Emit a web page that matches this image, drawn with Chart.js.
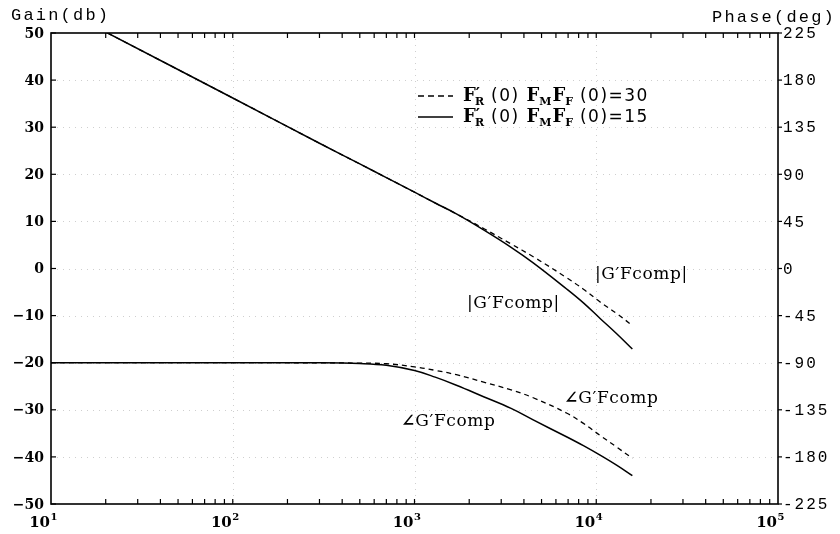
<!DOCTYPE html>
<html>
<head>
<meta charset="utf-8">
<script src="https://cdn.jsdelivr.net/npm/chart.js@4.4.1/dist/chart.umd.min.js"></script>
<style>
  html, body { margin: 0; background: #fff; }
  #wrap { width: 840px; height: 534px; }
</style>
</head>
<body>
<div id="wrap"><canvas id="bodeChart"></canvas></div>
<script>
// frequency points (Hz)
const freq = [10, 20, 100, 300, 500, 700, 1000, 1300, 1700, 2400, 3400, 4500, 6900, 8500, 10500, 13000, 15800];

// gain (db)
const gain30 = [56.2, 50.2, 36.2, 26.6, 22.2, 19.3, 16.2, 13.9, 11.6, 8.5, 5.2, 2.5, -2.0, -4.4, -7.1, -9.6, -12.1];
const gain15 = [56.2, 50.2, 36.2, 26.6, 22.2, 19.3, 16.2, 13.9, 11.6, 8.2, 4.5, 1.2, -4.4, -7.3, -10.6, -13.9, -17.1];

// phase (deg)
const phase30 = [-90, -90, -90, -90.1, -90.4, -91, -94, -97.3, -101.5, -108.5, -116, -123.5, -138.3, -148, -159.5, -170.8, -181.3];
const phase15 = [-90, -90, -90, -90.1, -90.8, -92.5, -97.5, -103.8, -111.5, -122.5, -133.7, -144.7, -161, -169.3, -178.4, -188.2, -198];

// tick labels
const gainTicks = [50, 40, 30, 20, 10, 0, -10, -20, -30, -40, -50];
const phaseTicks = [225, 180, 135, 90, 45, 0, -45, -90, -135, -180, -225];
const decadeTicks = [10, 100, 1000, 10000, 100000];
const decadeExp = ['1', '2', '3', '4', '5'];

const toXY = (arr) => freq.map((f, i) => ({ x: f, y: arr[i] }));

const bodePlugin = {
    id: 'bodePlugin',
    beforeDatasetsDraw(chart) {
        const { ctx, chartArea: a, scales } = chart;
        ctx.save();
        ctx.strokeStyle = '#cfcfcf';
        ctx.lineWidth = 1;
        ctx.setLineDash([1, 5]);
        gainTicks.slice(1, -1).forEach(v => {
            const y = Math.round(scales.y.getPixelForValue(v)) + 0.5;
            ctx.beginPath(); ctx.moveTo(a.left, y); ctx.lineTo(a.right, y); ctx.stroke();
        });
        decadeTicks.slice(1, -1).forEach(v => {
            const x = Math.round(scales.x.getPixelForValue(v)) + 0.5;
            ctx.beginPath(); ctx.moveTo(x, a.top); ctx.lineTo(x, a.bottom); ctx.stroke();
        });
        ctx.restore();
    },
    afterDraw(chart) {
        const { ctx, chartArea: a, scales } = chart;
        ctx.save();
        ctx.setLineDash([]);
        ctx.strokeStyle = '#000';
        ctx.fillStyle = '#000';

        // frame
        ctx.lineWidth = 1.6;
        ctx.strokeRect(a.left, a.top, a.right - a.left, a.bottom - a.top);

        // left ticks (inward) + labels
        ctx.lineWidth = 1.2;
        ctx.font = 'bold 14px "DejaVu Serif"';
        ctx.textAlign = 'right';
        ctx.textBaseline = 'middle';
        gainTicks.forEach(v => {
            const y = scales.y.getPixelForValue(v);
            ctx.beginPath(); ctx.moveTo(a.left, y); ctx.lineTo(a.left + 5, y); ctx.stroke();
            ctx.fillText(v < 0 ? '\u2212' + Math.abs(v) : String(v), 44, y + 1);
        });

        // right ticks (outward) + labels
        ctx.font = '16px "Liberation Mono"';
        ctx.letterSpacing = '2px';
        ctx.textAlign = 'left';
        phaseTicks.forEach(v => {
            const y = scales.y2.getPixelForValue(v);
            ctx.beginPath(); ctx.moveTo(a.right, y); ctx.lineTo(a.right + 4, y); ctx.stroke();
            ctx.fillText(String(v), 783, y + 1);
        });

        // log ticks top and bottom
        for (let d = 10; d < 100000; d *= 10) {
            for (let m = 1; m <= 9; m++) {
                const v = d * m;
                if (v === 10) continue;
                const x = scales.x.getPixelForValue(v);
                ctx.beginPath(); ctx.moveTo(x, a.bottom); ctx.lineTo(x, a.bottom - 5); ctx.stroke();
                ctx.beginPath(); ctx.moveTo(x, a.top); ctx.lineTo(x, a.top + 5); ctx.stroke();
            }
        }

        // decade labels
        ctx.letterSpacing = '0px';
        ctx.textBaseline = 'alphabetic';
        decadeTicks.forEach((v, i) => {
            const x = scales.x.getPixelForValue(v);
            ctx.font = 'bold 15px "DejaVu Serif"';
            ctx.textAlign = 'right';
            ctx.fillText('10', x - 1, 527);
            ctx.font = 'bold 10px "DejaVu Serif"';
            ctx.textAlign = 'left';
            ctx.fillText(decadeExp[i], x - 0.5, 520);
        });

        // axis titles
        ctx.font = '17px "Liberation Mono"';
        ctx.letterSpacing = '2.2px';
        ctx.textAlign = 'left';
        ctx.fillText('Gain(db)', 11, 20);
        ctx.fillText('Phase(deg)', 712, 22);
        ctx.letterSpacing = '0px';

        // legend
        const legendRow = (y, dash, value) => {
            ctx.lineWidth = 1.6;
            ctx.setLineDash(dash);
            ctx.beginPath(); ctx.moveTo(418, y); ctx.lineTo(453, y); ctx.stroke();
            ctx.setLineDash([]);
            let x = 463;
            const piece = (txt, font, dy, sp) => {
                ctx.font = font;
                ctx.letterSpacing = (sp || 0) + 'px';
                ctx.fillText(txt, x, y + 5 + dy);
                x += ctx.measureText(txt).width;
            };
            const big = 'bold 18px "DejaVu Serif"';
            const sub = 'bold 11px "DejaVu Serif"';
            const sans = '17px "DejaVu Sans"';
            piece('F', big, 0);
            piece('\u2032', 'bold 16px "DejaVu Serif"', -2);
            x -= 5;
            piece('R', sub, 4);
            piece(' (0) ', sans, 0, 1.5);
            piece('F', big, 0);
            piece('M', sub, 4);
            x += 1;
            piece('F', big, 0);
            piece('F', sub, 4);
            piece(' (0)=' + value, sans, 0, 1.5);
            ctx.letterSpacing = '0px';
        };
        ctx.textAlign = 'left';
        legendRow(96, [6, 4], '30');
        legendRow(117, [], '15');

        // curve annotations
        ctx.textBaseline = 'middle';
        const note = (prefix, txt, x, y) => {
            ctx.font = 'bold 17px "DejaVu Serif"';
            ctx.fillText(prefix, x, y);
            x += ctx.measureText(prefix).width;
            ctx.font = '17px "DejaVu Serif"';
            ctx.letterSpacing = '0.6px';
            ctx.fillText(txt, x, y);
            ctx.letterSpacing = '0px';
        };
        note('', '|G\u2032Fcomp|', 595, 275);
        note('', '|G\u2032Fcomp|', 467, 304);
        note('\u2220', 'G\u2032Fcomp', 564, 399);
        note('\u2220', 'G\u2032Fcomp', 401, 422);
        ctx.restore();
    }
};

new Chart(document.getElementById('bodeChart'), {
    type: 'line',
    data: {
        datasets: [
            { label: 'gain 30', data: toXY(gain30), yAxisID: 'y', borderColor: '#000', borderWidth: 1.3, borderDash: [5, 4] },
            { label: 'gain 15', data: toXY(gain15), yAxisID: 'y', borderColor: '#000', borderWidth: 1.5 },
            { label: 'phase 30', data: toXY(phase30), yAxisID: 'y2', borderColor: '#000', borderWidth: 1.3, borderDash: [5, 4] },
            { label: 'phase 15', data: toXY(phase15), yAxisID: 'y2', borderColor: '#000', borderWidth: 1.5 }
        ]
    },
    options: {
        responsive: true,
        maintainAspectRatio: false,
        animation: false,
        layout: { padding: { left: 51, top: 33, right: 62, bottom: 30 } },
        elements: { point: { radius: 0 }, line: { tension: 0.4 } },
        plugins: { legend: { display: false }, tooltip: { enabled: false } },
        scales: {
            x: { type: 'logarithmic', min: 10, max: 100000, display: false },
            y: { min: -50, max: 50, display: false },
            y2: { min: -225, max: 225, position: 'right', display: false }
        }
    },
    plugins: [bodePlugin]
});
</script>
</body>
</html>
